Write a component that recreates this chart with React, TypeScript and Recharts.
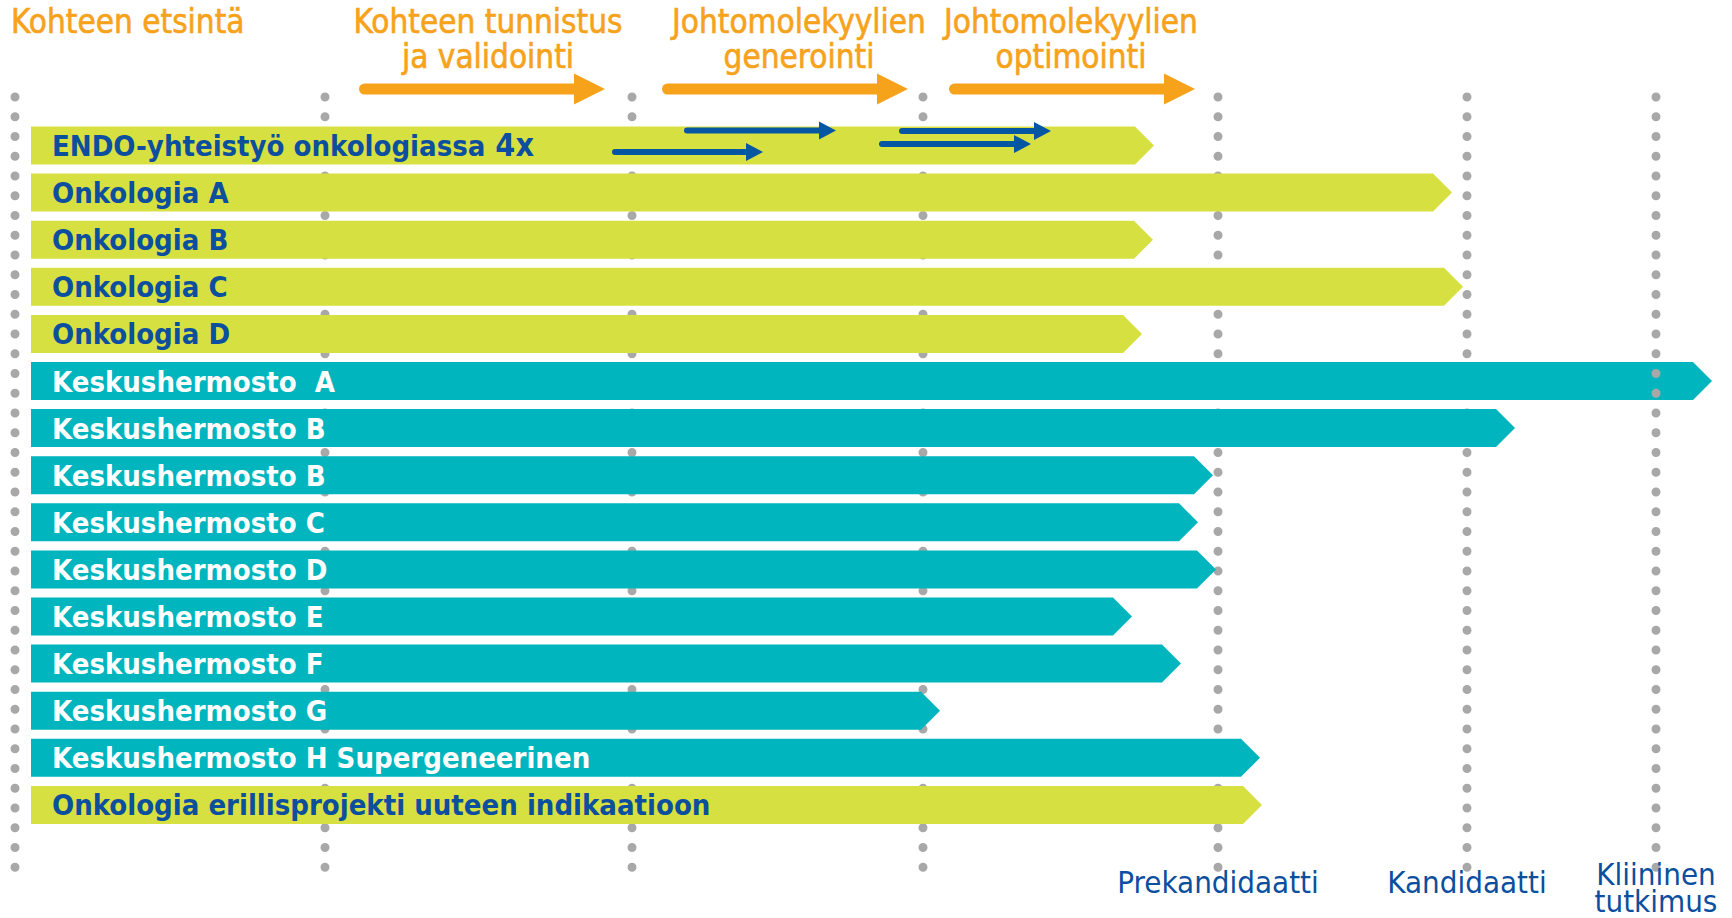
import { ComposedChart, Bar, XAxis, YAxis, ReferenceLine } from 'recharts';

// pipeline rows, top to bottom
const projectNames = [
  'ENDO-yhteistyö onkologiassa 4x',
  'Onkologia A',
  'Onkologia B',
  'Onkologia C',
  'Onkologia D',
  'Keskushermosto  A',
  'Keskushermosto B',
  'Keskushermosto B',
  'Keskushermosto C',
  'Keskushermosto D',
  'Keskushermosto E',
  'Keskushermosto F',
  'Keskushermosto G',
  'Keskushermosto H Supergeneerinen',
  'Onkologia erillisprojekti uuteen indikaatioon',
];
const projectAreas = ['onk', 'onk', 'onk', 'onk', 'onk', 'cns', 'cns', 'cns', 'cns', 'cns', 'cns', 'cns', 'cns', 'cns', 'onk'];
const projectStart = 31;
const projectEnds = [1154, 1452, 1153, 1463, 1142, 1712, 1515, 1213, 1198, 1216, 1132, 1181, 940, 1260, 1262];

// milestone guides along the pipeline axis
const milestones = [15, 325, 632, 923, 1218, 1467, 1656];
const milestoneNames = ['', '', '', '', 'Prekandidaatti', 'Kandidaatti', 'Kliininen\ntutkimus'];

// research phases shown over the chart
const stagePositions = [11, 488, 799, 1071];
const stageLabels = [
  'Kohteen etsintä',
  'Kohteen tunnistus\nja validointi',
  'Johtomolekyylien\ngenerointi',
  'Johtomolekyylien\noptimointi',
];
const stageArrowStarts = [359, 662, 949];
const stageArrowEnds = [605, 908, 1195];

// parallel ENDO collaborations
const endoArrowStarts = [612, 684, 879, 899];
const endoArrowEnds = [763, 836, 1031, 1051];
const endoArrowShift = [7, -14.5, -1, -14];

const LIME = '#d7e041';
const TEAL = '#00b5bd';
const NAVY = '#0b4f9e';
const BLUE = '#0556a3';
const ORANGE = '#f7a21b';
const GREY = '#a8a8a8';
const FONT = "'DejaVu Sans Condensed', 'DejaVu Sans', sans-serif";

const rows = projectNames.map((name, i) => ({
  key: `r${i}`,
  name,
  area: projectAreas[i],
  span: [projectStart, projectEnds[i]],
}));

const ArrowBar = (props: any) => {
  const { x, y, width, height, payload } = props;
  const tip = 19;
  const x2 = x + width;
  const isCns = payload.area === 'cns';
  // the "4x" multiplier is set a bit larger
  const m = / 4x$/.exec(payload.name);
  const main = m ? payload.name.slice(0, m.index) : payload.name;
  return (
    <g>
      <path
        d={`M${x},${y} H${x2 - tip} L${x2},${y + height / 2} L${x2 - tip},${y + height} H${x} Z`}
        fill={isCns ? TEAL : LIME}
      />
      <text
        x={x + 21}
        y={y + height / 2 + 10.5}
        fill={isCns ? '#ffffff' : NAVY}
        fontSize={29}
        fontWeight="bold"
        fontFamily={FONT}
        style={{ whiteSpace: 'pre' }}
      >
        {main}
        {m && <tspan fontSize={32}>{m[0]}</tspan>}
      </text>
    </g>
  );
};

const DottedGuide = (p: any) => {
  const top = Math.min(p.y1, p.y2) - 24.5;
  const bottom = Math.max(p.y1, p.y2) + 39.5;
  return (
    <line
      x1={p.x1}
      x2={p.x1}
      y1={top}
      y2={bottom}
      stroke={GREY}
      strokeWidth={9}
      strokeLinecap="round"
      strokeDasharray="0 19.75"
    />
  );
};

const makeArrow = (color: string, shaft: number, headLen: number, headHalf: number, dy: number) => (p: any) => {
  const y = p.y1 + dy;
  const x1 = Math.min(p.x1, p.x2);
  const x2 = Math.max(p.x1, p.x2);
  return (
    <g>
      <line x1={x1 + shaft / 2} y1={y} x2={x2 - headLen + 1} y2={y} stroke={color} strokeWidth={shaft} strokeLinecap="round" />
      <polygon points={`${x2 - headLen},${y - headHalf} ${x2},${y} ${x2 - headLen},${y + headHalf}`} fill={color} />
    </g>
  );
};

const makeStageLabel = (index: number) => (p: any) => {
  const lines = stageLabels[index].split('\n');
  const top = Math.min(p.y1, p.y2);
  return (
    <text
      textAnchor={index === 0 ? 'start' : 'middle'}
      fill={ORANGE}
      stroke={ORANGE}
      strokeWidth={0.6}
      fontSize={33}
      fontFamily={FONT}
    >
      {lines.map((l, i) => (
        <tspan key={i} x={p.x1} y={top - 88.5 + i * 35}>
          {l}
        </tspan>
      ))}
    </text>
  );
};

const MilestoneTick = (p: any) => {
  const label = milestoneNames[milestones.indexOf(p.payload.value)] || '';
  const lines = label.split('\n');
  return (
    <text textAnchor="middle" fill={NAVY} fontSize={31} fontFamily={FONT}>
      {lines.map((l, i) => (
        <tspan key={i} x={p.x} y={p.y + (lines.length === 1 ? 65 : 57 + i * 27)}>
          {l}
        </tspan>
      ))}
    </text>
  );
};

export default function App() {
  const lastGuide = milestones[milestones.length - 1];
  return (
    <div style={{ position: 'absolute', left: 0, top: 0, width: 1732, height: 918, background: '#ffffff' }}>
      <ComposedChart
        width={1732}
        height={918}
        data={rows}
        layout="vertical"
        margin={{ top: 121.5, right: 0, bottom: 0, left: 0 }}
        barCategoryGap={0}
      >
        <XAxis
          xAxisId="bottom"
          orientation="bottom"
          type="number"
          domain={[0, 1732]}
          ticks={milestones.filter((_, i) => milestoneNames[i])}
          interval={0}
          height={90}
          axisLine={false}
          tickLine={false}
          tickSize={0}
          tickMargin={0}
          tick={(p: any) => <MilestoneTick {...p} />}
        />
        <YAxis type="category" dataKey="key" hide />
        {milestones.slice(0, -1).map((m) => (
          <ReferenceLine key={`g${m}`} x={m} xAxisId="bottom" ifOverflow="visible" zIndex={200} shape={DottedGuide} />
        ))}
        <Bar dataKey="span" xAxisId="bottom" barSize={38} isAnimationActive={false} shape={ArrowBar} />
        <ReferenceLine x={lastGuide} xAxisId="bottom" ifOverflow="visible" zIndex={400} shape={DottedGuide} />
        {stagePositions.map((s, i) => (
          <ReferenceLine key={`t${i}`} x={s} xAxisId="bottom" ifOverflow="visible" zIndex={450} shape={makeStageLabel(i)} />
        ))}
        {stageArrowStarts.map((s, i) => (
          <ReferenceLine
            key={`s${i}`}
            xAxisId="bottom"
            ifOverflow="visible"
            zIndex={450}
            segment={[{ x: s, y: 'r0' }, { x: stageArrowEnds[i], y: 'r0' }]}
            shape={makeArrow(ORANGE, 11, 31, 15.5, -56)}
          />
        ))}
        {endoArrowStarts.map((s, i) => (
          <ReferenceLine
            key={`e${i}`}
            xAxisId="bottom"
            ifOverflow="visible"
            zIndex={450}
            segment={[{ x: s, y: 'r0' }, { x: endoArrowEnds[i], y: 'r0' }]}
            shape={makeArrow(BLUE, 6, 17, 9, endoArrowShift[i])}
          />
        ))}
      </ComposedChart>
    </div>
  );
}
